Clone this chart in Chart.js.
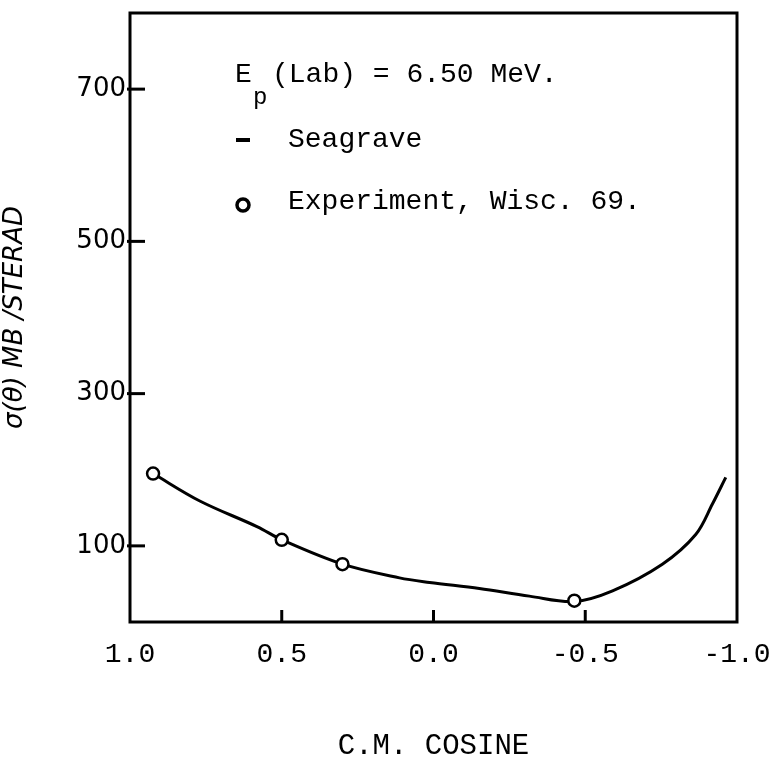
<!DOCTYPE html>
<html>
<head>
<meta charset="utf-8">
<script src="https://cdn.jsdelivr.net/npm/chart.js@4"></script>
<style>
  html, body { margin: 0; padding: 0; background: #fff; }
  canvas { display: block; }
</style>
</head>
<body>
<canvas id="chart" width="778" height="764"></canvas>
<script>
// Seagrave curve (smooth line)
const curveX = [0.924, 0.77, 0.58, 0.5, 0.3, 0.112, 0.013, -0.151, -0.316, -0.464, -0.59, -0.754, -0.864, -0.919, -0.963];
const curveY = [195, 159, 125, 108, 76, 58, 52, 44, 34, 27, 41, 76, 115, 155, 190];

// Experiment, Wisc. 69
const expX = [0.924, 0.5, 0.3, -0.464];
const expY = [195, 108, 76, 28];

const xTicks = [1.0, 0.5, 0.0, -0.5, -1.0];
const yTicks = [100, 300, 500, 700];

const mono = '"Liberation Mono", "DejaVu Sans Mono", monospace';

const curvePoints = curveX.map((x, i) => ({ x: x, y: curveY[i] }));
const expPoints = expX.map((x, i) => ({ x: x, y: expY[i] }));

// frame, inside tick marks and the text legend
const framePlugin = {
  id: 'frame',
  afterDraw(chart) {
    const { ctx, chartArea: a, scales } = chart;
    ctx.save();
    ctx.strokeStyle = '#000';
    ctx.lineWidth = 3;
    ctx.strokeRect(a.left, a.top, a.right - a.left, a.bottom - a.top);

    yTicks.forEach(v => {
      const py = scales.y.getPixelForValue(v);
      ctx.beginPath();
      ctx.moveTo(a.left - 3, py);
      ctx.lineTo(a.left + 15, py);
      ctx.stroke();
    });
    xTicks.forEach(v => {
      if (Math.abs(v) === 1) return;
      const px = scales.x.getPixelForValue(v);
      ctx.beginPath();
      ctx.moveTo(px, a.bottom);
      ctx.lineTo(px, a.bottom - 12);
      ctx.stroke();
    });

    // legend text
    ctx.fillStyle = '#000';
    ctx.textBaseline = 'middle';
    ctx.font = '28px ' + mono;
    ctx.fillText('E', 235, 75);
    ctx.fillText('(Lab) = 6.50 MeV.', 272, 75);
    ctx.font = '24px ' + mono;
    ctx.fillText('p', 253, 98);

    ctx.font = '28px ' + mono;
    ctx.beginPath();
    ctx.moveTo(236, 140);
    ctx.lineTo(250, 140);
    ctx.lineWidth = 4;
    ctx.stroke();
    ctx.fillText('Seagrave', 288, 140);

    ctx.beginPath();
    ctx.arc(243, 205, 6, 0, Math.PI * 2);
    ctx.lineWidth = 3.5;
    ctx.stroke();
    ctx.fillText('Experiment, Wisc. 69.', 288, 202);
    ctx.restore();
  }
};

new Chart(document.getElementById('chart').getContext('2d'), {
  type: 'scatter',
  data: {
    datasets: [
      {
        label: 'Seagrave',
        data: curvePoints,
        showLine: true,
        borderColor: '#000',
        borderWidth: 3,
        tension: 0.35,
        pointRadius: 0,
        order: 2,
      },
      {
        label: 'Experiment, Wisc. 69.',
        data: expPoints,
        showLine: false,
        pointRadius: 6,
        pointBorderWidth: 2.5,
        pointBorderColor: '#000',
        pointBackgroundColor: '#fff',
        order: 1,
      },
    ],
  },
  options: {
    responsive: false,
    animation: false,
    layout: {
      padding: { top: 13, right: 41, left: 0, bottom: 0 },
    },
    plugins: {
      legend: { display: false },
      tooltip: { enabled: false },
    },
    scales: {
      x: {
        type: 'linear',
        min: -1,
        max: 1,
        reverse: true,
        afterBuildTicks: (scale) => { scale.ticks = xTicks.map(v => ({ value: v })); },
        afterFit: (scale) => {
          scale.height = 142;
          scale.paddingLeft = 0;
          scale.paddingRight = 0;
        },
        grid: { display: false, drawTicks: false },
        border: { display: false },
        ticks: {
          color: '#000',
          padding: 16,
          font: { family: mono, size: 28 },
          callback: (value) => value.toFixed(1),
        },
        title: {
          display: true,
          text: 'C.M. COSINE',
          color: '#000',
          padding: { top: 0, bottom: 0 },
          font: { family: mono, size: 29 },
        },
      },
      y: {
        type: 'linear',
        min: 0,
        max: 800,
        afterBuildTicks: (scale) => { scale.ticks = yTicks.map(v => ({ value: v })); },
        afterFit: (scale) => {
          scale.width = 130;
          scale.paddingTop = 0;
          scale.paddingBottom = 0;
        },
        grid: { display: false, drawTicks: false },
        border: { display: false },
        ticks: {
          color: '#000',
          padding: 4,
          font: { family: '"DejaVu Sans", sans-serif', size: 26 },
        },
        title: {
          display: true,
          text: 'σ(θ) MB /STERAD',
          color: '#000',
          padding: { top: 0, bottom: 16 },
          font: { family: '"DejaVu Sans", sans-serif', size: 26, style: 'italic' },
        },
      },
    },
  },
  plugins: [framePlugin],
});
</script>
</body>
</html>
